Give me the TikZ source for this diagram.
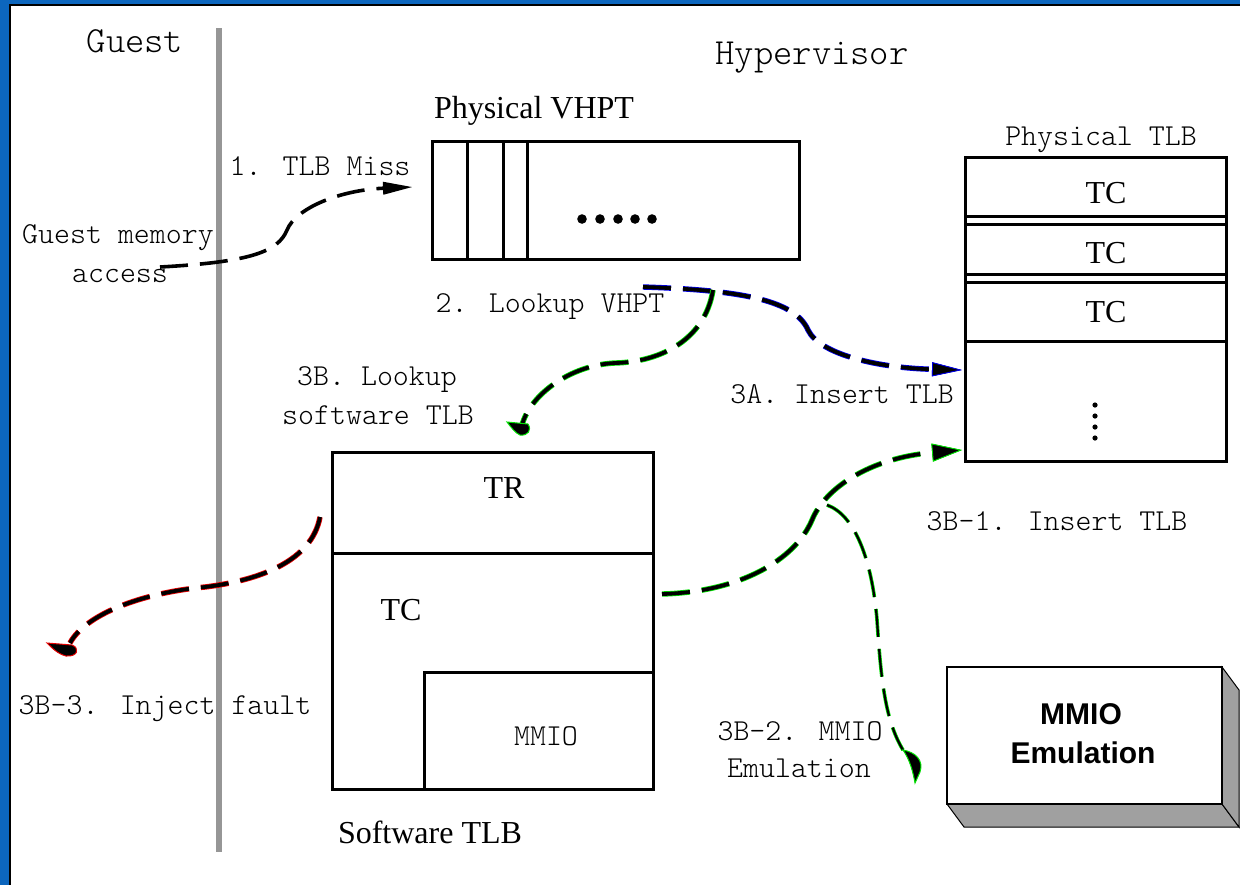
\documentclass[tikz,border=0pt]{standalone}
\usepackage{fontspec}
\setmainfont{Liberation Serif}
\newfontfamily\emufont{Liberation Sans}
\usetikzlibrary{arrows.meta}
\definecolor{frameblue}{RGB}{12,102,190}
\definecolor{divgray}{RGB}{150,150,150}
\definecolor{sidegray}{RGB}{160,160,160}
\definecolor{hblue}{RGB}{0,0,230}
\definecolor{hgreen}{RGB}{0,225,0}
\definecolor{hred}{RGB}{230,0,0}
\begin{document}
\begin{tikzpicture}[x=0.5pt,y=-0.5pt,
  box/.style={draw=black, line width=1.5pt},
  lab/.style={font=\ttfamily\fontseries{l}\fontsize{15.2}{18}\selectfont, inner sep=0pt, anchor=base},
  biglab/.style={font=\ttfamily\fontseries{l}\fontsize{18.4}{22}\selectfont, inner sep=0pt, anchor=base},
  serif/.style={font=\fontsize{16}{19}\selectfont, inner sep=0pt, anchor=base},
  emu/.style={font=\emufont\bfseries\fontsize{15}{18}\selectfont, inner sep=0pt, anchor=base},
  flow/.style={draw=black, line width=1.9pt, dash pattern=on 14pt off 6pt,
     preaction={draw=#1, line width=2.7pt, dash pattern=on 14pt off 6pt}},
  thinflow/.style={draw=black, line width=1.1pt, dash pattern=on 14pt off 6pt,
     preaction={draw=#1, line width=1.8pt, dash pattern=on 14pt off 6pt}},
  tipA/.style={-{Triangle[length=15pt,width=7pt,fill=black,color=#1,line width=0.4pt]}},
  blob/.style={fill=black, draw=#1, line width=0.5pt},
]
\useasboundingbox (0,0) rectangle (1240,885);

% frame
\fill[white] (0,0) rectangle (1240,885);
\fill[frameblue] (0,0) rectangle (9,885);
\fill[frameblue] (0,0) rectangle (1240,4);
\fill[black] (9,4) rectangle (11,885);
\fill[black] (9,4) rectangle (1240,6);

% guest / hypervisor divider
\draw[divgray, line width=2.8pt] (219,28) -- (219,852);
\node[biglab] (guest) at (135,52) {Guest};
\node[biglab] (hyper) at (812,64) {Hypervisor};

% physical VHPT
\node[serif] (vhptlab) at (534,118) {Physical VHPT};
\draw[box] (432,141) rectangle (799,259);
\draw[box] (467,141) -- (467,259) (503,141) -- (503,259) (527,141) -- (527,259);
\foreach \dx in {582,600,618,635,652} \fill (\dx,219) circle (2.4pt);

% physical TLB
\node[lab] (ptlblab) at (1101,145) {Physical TLB};
\draw[box] (965,157) rectangle (1226,461);
\draw[box] (965,216) -- (1226,216) (965,224) -- (1226,224)
           (965,274) -- (1226,274) (965,282) -- (1226,282)
           (965,341) -- (1226,341);
\node[serif] (tc1) at (1106,203) {TC};
\node[serif] (tc2) at (1106,263) {TC};
\node[serif] (tc3) at (1106,322) {TC};
\foreach \dy in {405,416,427,438} \fill (1095,\dy) circle (1.3pt);

% software TLB
\draw[box] (332,452) rectangle (653,789);
\draw[box] (332,553) -- (653,553);
\draw[box] (424,789) -- (424,672) -- (653,672);
\node[serif] (tr) at (504,498) {TR};
\node[serif] (tcs) at (401,620) {TC};
\node[lab] (mmio) at (546,745) {MMIO};
\node[serif] (stlblab) at (430,843) {Software TLB};

% MMIO emulation block
\filldraw[fill=sidegray, draw=black, line width=0.5pt] (947,804) -- (1222,804) -- (1239,827) -- (964,827) -- cycle;
\filldraw[fill=sidegray, draw=black, line width=0.5pt] (1222,667) -- (1239,690) -- (1239,827) -- (1222,804) -- cycle;
\draw[fill=white, line width=0.6pt] (947,667) rectangle (1222,804);
\node[emu] (emu1) at (1081,724) {MMIO};
\node[emu] (emu2) at (1083,763) {Emulation};

% labels
\node[lab] (l1) at (320,175) {1. TLB Miss};
\node[lab] (gm1) at (118,243) {Guest memory};
\node[lab] (gm2) at (120,282) {access};
\node[lab] (l2) at (550,312) {2. Lookup VHPT};
\node[lab] (l3b1) at (377,385) {3B. Lookup};
\node[lab] (l3b2) at (378,424) {software TLB};
\node[lab] (l3a) at (842,403) {3A. Insert TLB};
\node[lab] (l3b1ins) at (1057,530) {3B-1. Insert TLB};
\node[lab] (l3b3) at (165,714) {3B-3. Inject fault};
\node[lab] (l3b2a) at (800,740) {3B-2. MMIO};
\node[lab] (l3b2b) at (799,777) {Emulation};

% connector end points
\coordinate (accs) at (160,267);
\coordinate (miss) at (413,187);
\coordinate (vh) at (643,287);
\coordinate (ins) at (962,370);
\coordinate (vh2) at (713,290);
\coordinate (sw) at (522,425);
\coordinate (tcout) at (662,594);
\coordinate (ins2) at (962,450);
\coordinate (fork) at (827,505);
\coordinate (emuin) at (903,750);
\coordinate (trout) at (320,517);
\coordinate (fault) at (70,643);

% 1. TLB miss
\draw[line width=1.8pt, dash pattern=on 14pt off 6pt,
      -{Triangle[length=15pt,width=6pt]}]
  (accs) .. controls (250,262) and (278,252) .. (287,230)
         .. controls (296,208) and (340,190) .. (miss);

% 3A. insert TLB
\draw[flow=hblue, tipA=hblue]
  (vh) .. controls (740,290) and (795,300) .. (808,330)
       .. controls (820,355) and (880,368) .. (ins);

% 3B. lookup software TLB
\draw[flow=hgreen]
  (vh2) .. controls (705,340) and (660,362) .. (615,363)
        .. controls (570,365) and (530,395) .. (sw);
\filldraw[blob=hgreen] (507,422) -- (528,424) .. controls (532,430) and (528,436) .. (520,435)
   .. controls (515,433) and (511,427) .. cycle;

% 3B-1. insert TLB
\draw[flow=hgreen, -{Triangle[length=15pt,width=9pt,fill=black,color=hgreen,line width=0.4pt]}]
  (tcout) .. controls (740,592) and (795,560) .. (812,520)
          .. controls (825,488) and (870,458) .. (ins2);

% 3B-2. MMIO emulation
\draw[thinflow=hgreen]
  (fork) .. controls (855,515) and (872,560) .. (877,620)
         .. controls (881,680) and (885,720) .. (emuin);
\filldraw[blob=hgreen] (903,750) .. controls (915,752) and (924,760) .. (920,772)
   -- (915,783) .. controls (913,772) and (910,760) .. cycle;

% 3B-3. inject fault
\draw[flow=hred]
  (trout) .. controls (312,560) and (262,580) .. (205,587)
          .. controls (140,593) and (85,615) .. (fault);
\filldraw[blob=hred] (47,643) -- (72,645) .. controls (80,648) and (78,657) .. (66,656)
   .. controls (58,654) and (52,648) .. cycle;
\end{tikzpicture}
\end{document}
